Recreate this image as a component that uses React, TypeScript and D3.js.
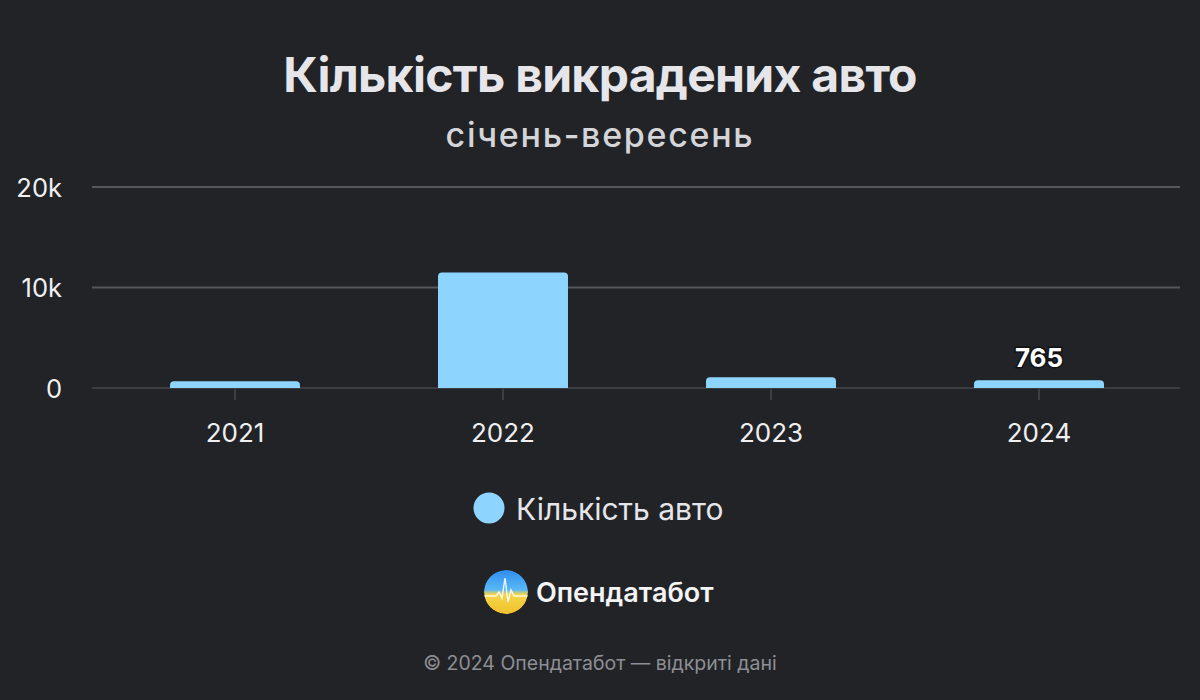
import { useEffect } from "react";
import * as d3 from "d3";

const years = ["2021", "2022", "2023", "2024"];
const carCounts = [680, 11500, 1060, 765];
const yTicks = [0, 10000, 20000];
const labelledYear = "2024";

const W = 1200;
const H = 700;
const BG = "#212327";
const BAR = "#8dd5ff";
const FONT = "Inter, 'Noto Sans', sans-serif";

function fmtK(v: number): string {
  return v === 0 ? "0" : `${v / 1000}k`;
}

export default function App() {
  useEffect(() => {
    document.body.style.margin = "0";
    document.body.style.background = BG;
  }, []);

  const x = d3.scaleBand<string>().domain(years).range([101, 1173]).paddingInner(0.515).paddingOuter(0.2575);
  const y = d3.scaleLinear().domain([0, 20000]).range([388, 187]);
  const bw = x.bandwidth();
  const r = 4;

  const barPath = (year: string, v: number) => {
    const x0 = x(year)!;
    const y0 = y(v);
    const y1 = y(0);
    const rr = Math.min(r, (y1 - y0));
    return `M${x0},${y1} V${y0 + rr} Q${x0},${y0} ${x0 + rr},${y0} H${x0 + bw - rr} Q${x0 + bw},${y0} ${x0 + bw},${y0 + rr} V${y1} Z`;
  };

  // heartbeat line for the logo
  const pulse: [number, number][] = [
    [-22, 4], [-10, 4], [-7, 0], [-4, 6], [-1, -14], [2, 10], [5, -2], [8, 4], [22, 4],
  ];
  const pulseLine = d3.line()(pulse) ?? "";

  return (
    <div style={{ position: "absolute", left: 0, top: 0, width: W, height: H, background: BG }}>
      <svg width={W} height={H} style={{ display: "block" }} fontFamily={FONT}>
        <defs>
          <linearGradient id="logoGrad" x1="0" y1="0" x2="0" y2="1">
            <stop offset="0%" stopColor="#2f8df0" />
            <stop offset="45%" stopColor="#5ab8f5" />
            <stop offset="55%" stopColor="#f4d54a" />
            <stop offset="100%" stopColor="#f2c12e" />
          </linearGradient>
          <clipPath id="logoClip">
            <circle cx={0} cy={0} r={22} />
          </clipPath>
        </defs>
        <rect width={W} height={H} fill={BG} />

        <text x={600} y={92} textAnchor="middle" fontSize={48} fontWeight={700} letterSpacing={-0.7} fill="#e6e6ea">
          Кількість викрадених авто
        </text>
        <text x={600} y={147} textAnchor="middle" fontSize={34} fontWeight={500} letterSpacing={1.7} fill="#d4d5d9">
          січень-вересень
        </text>

        {yTicks.map((t) => (
          <g key={t}>
            <line x1={92} x2={1180} y1={y(t)} y2={y(t)} stroke={t === 0 ? "#3b3d42" : "#55575c"} strokeWidth={2} />
            <text x={62} y={y(t) + 9.5} textAnchor="end" fontSize={25.5} fill="#f0f0f2">
              {fmtK(t)}
            </text>
          </g>
        ))}

        {years.map((yr) => {
          const cx = x(yr)! + bw / 2;
          return (
            <g key={yr}>
              <line x1={cx} x2={cx} y1={389} y2={400} stroke="#3b3d42" strokeWidth={2} />
              <text x={cx} y={442} textAnchor="middle" fontSize={26} fill="#f0f0f2">
                {yr}
              </text>
            </g>
          );
        })}

        {years.map((yr, i) => (
          <path key={yr} d={barPath(yr, carCounts[i])} fill={BAR} />
        ))}

        {years.map((yr, i) =>
          yr === labelledYear ? (
            <text
              key={yr}
              x={x(yr)! + bw / 2}
              y={y(carCounts[i]) - 13}
              textAnchor="middle"
              fontSize={26}
              fontWeight={700}
              fill="#ffffff"
              stroke="#111214"
              strokeWidth={3}
              paintOrder="stroke"
            >
              {carCounts[i]}
            </text>
          ) : null,
        )}

        <circle cx={489} cy={508} r={15.5} fill={BAR} />
        <text x={516} y={520} fontSize={30} fill="#e6e6ea">
          Кількість авто
        </text>

        <g transform="translate(506,592)">
          <g clipPath="url(#logoClip)">
            <circle r={22} fill="url(#logoGrad)" />
            <path d={pulseLine} fill="none" stroke="#ffffff" strokeWidth={1.5} opacity={0.85} />
          </g>
        </g>
        <text x={536} y={602} fontSize={27} fontWeight={600} fill="#f4f4f6">
          Опендатабот
        </text>

        <text x={600} y={670} textAnchor="middle" fontSize={19.5} fill="#8e8f94">
          © 2024 Опендатабот — відкриті дані
        </text>
      </svg>
    </div>
  );
}
